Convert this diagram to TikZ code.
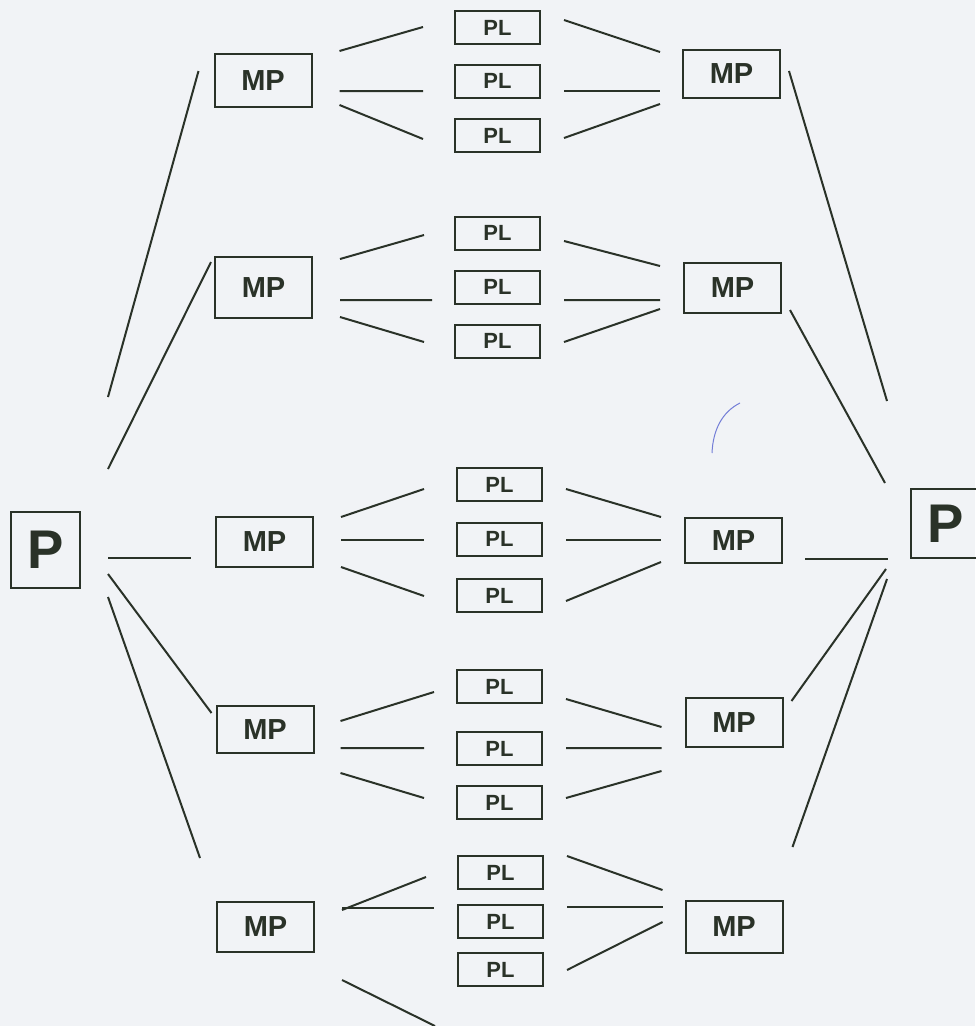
\documentclass[tikz,border=0pt]{standalone}
\usepackage{fontspec}
\setmainfont{Liberation Sans}
\definecolor{ink}{RGB}{42,50,40}
\definecolor{paper}{RGB}{241,243,246}
\definecolor{pen}{RGB}{115,125,215}
\tikzstyle{pbox}=[rectangle,draw=ink,text=ink,line width=0.4mm,inner sep=0pt,minimum width=13.8mm,minimum height=15.2mm,font=\fontsize{31}{31}\selectfont\bfseries]
\tikzstyle{mpbox}=[rectangle,draw=ink,text=ink,line width=0.4mm,inner sep=0pt,minimum width=19.4mm,minimum height=10mm,font=\fontsize{16.5}{16.5}\selectfont\bfseries]
\tikzstyle{plbox}=[rectangle,draw=ink,text=ink,line width=0.4mm,inner sep=0pt,minimum width=17mm,minimum height=6.6mm,font=\fontsize{12.5}{12.5}\selectfont\bfseries]
\tikzstyle{link}=[draw=ink,line width=0.4mm]

\begin{document}
\begin{tikzpicture}[x=0.2mm,y=-0.2mm]
    \fill[paper] (0,0) rectangle (975,1026);
    \useasboundingbox (0,0) rectangle (975,1026);

    % the two P boxes
    \node (pL) at (45.5,550) [pbox] {P};
    \node (pR) at (945.5,523.5) [pbox,minimum height=13.8mm] {P};

    % left MP column
    \node (ml1) at (263,80.5) [mpbox,minimum height=10.6mm] {MP};
    \node (ml2) at (263.5,287.5) [mpbox,minimum height=12.2mm] {MP};
    \node (ml3) at (264.5,542) [mpbox] {MP};
    \node (ml4) at (265,729.5) [mpbox,minimum height=9.4mm] {MP};
    \node (ml5) at (265.5,926.5) [mpbox] {MP};

    % right MP column
    \node (mr1) at (731.5,74) [mpbox,minimum height=9.6mm] {MP};
    \node (mr2) at (732.5,287.5) [mpbox] {MP};
    \node (mr3) at (733.5,540.5) [mpbox,minimum height=9mm] {MP};
    \node (mr4) at (734,722.5) [mpbox,minimum height=9.8mm] {MP};
    \node (mr5) at (734,927) [mpbox,minimum height=10.4mm] {MP};

    % PL column
    \node (pl1) at (497.5,27.5) [plbox] {PL};
    \node (pl2) at (497.5,81) [plbox] {PL};
    \node (pl3) at (497.5,135.5) [plbox] {PL};
    \node (pl4) at (497.5,233) [plbox] {PL};
    \node (pl5) at (497.5,287) [plbox] {PL};
    \node (pl6) at (497.5,341) [plbox] {PL};
    \node (pl7) at (499.5,484.5) [plbox] {PL};
    \node (pl8) at (499.5,539) [plbox] {PL};
    \node (pl9) at (499.5,595.5) [plbox] {PL};
    \node (pl10) at (499.5,686.5) [plbox] {PL};
    \node (pl11) at (499.5,748.5) [plbox] {PL};
    \node (pl12) at (499.5,802.5) [plbox] {PL};
    \node (pl13) at (500.5,872.5) [plbox] {PL};
    \node (pl14) at (500.5,921.5) [plbox] {PL};
    \node (pl15) at (500.5,969.5) [plbox] {PL};
    \coordinate (cut) at (435,1026);

    % left P to left MPs
    \draw[link] ([shift={(27,-153)}]pL.east) -- ([shift={(-15,-9.5)}]ml1.west);
    \draw[link] ([shift={(27,-81)}]pL.east) -- ([shift={(-3,-25.5)}]ml2.west);
    \draw[link] ([shift={(27,8)}]pL.east) -- ([shift={(-24,16)}]ml3.west);
    \draw[link] ([shift={(27,24)}]pL.east) -- ([shift={(-4,-16.5)}]ml4.west);
    \draw[link] ([shift={(27,47)}]pL.east) -- ([shift={(-16,-68.5)}]ml5.west);

    % right MPs to right P
    \draw[link] ([shift={(8,-3)}]mr1.east) -- ([shift={(-23,-122.5)}]pR.west);
    \draw[link] ([shift={(8,22.5)}]mr2.east) -- ([shift={(-25,-40.5)}]pR.west);
    \draw[link] ([shift={(22,18.5)}]mr3.east) -- ([shift={(-22,35.5)}]pR.west);
    \draw[link] ([shift={(8,-21.5)}]mr4.east) -- ([shift={(-24,45.5)}]pR.west);
    \draw[link] ([shift={(9,-80)}]mr5.east) -- ([shift={(-23,55.5)}]pR.west);

    % left MPs to PLs
    \draw[link] ([shift={(27,-29.5)}]ml1.east) -- ([shift={(-31,-0.5)}]pl1.west);
    \draw[link] ([shift={(27,10.5)}]ml1.east) -- ([shift={(-31,10)}]pl2.west);
    \draw[link] ([shift={(27,24.5)}]ml1.east) -- ([shift={(-31,3.5)}]pl3.west);
    \draw[link] ([shift={(27,-28.5)}]ml2.east) -- ([shift={(-30,2)}]pl4.west);
    \draw[link] ([shift={(27,12.5)}]ml2.east) -- ([shift={(-22,13)}]pl5.west);
    \draw[link] ([shift={(27,29.5)}]ml2.east) -- ([shift={(-30,1)}]pl6.west);
    \draw[link] ([shift={(27,-25)}]ml3.east) -- ([shift={(-32,4.5)}]pl7.west);
    \draw[link] ([shift={(27,-2)}]ml3.east) -- ([shift={(-32,1)}]pl8.west);
    \draw[link] ([shift={(27,25)}]ml3.east) -- ([shift={(-32,0.5)}]pl9.west);
    \draw[link] ([shift={(26,-8.5)}]ml4.east) -- ([shift={(-22,5.5)}]pl10.west);
    \draw[link] ([shift={(26,18.5)}]ml4.east) -- ([shift={(-32,-0.5)}]pl11.west);
    \draw[link] ([shift={(26,43.5)}]ml4.east) -- ([shift={(-32,-4.5)}]pl12.west);
    \draw[link] ([shift={(27,-16.5)}]ml5.east) -- ([shift={(-31,4.5)}]pl13.west);
    \draw[link] ([shift={(27,-18.5)}]ml5.east) -- ([shift={(-23,-13.5)}]pl14.west);
    \draw[link] ([shift={(27,53.5)}]ml5.east) -- (cut);

    % PLs to right MPs
    \draw[link] ([shift={(23,-7.5)}]pl1.east) -- ([shift={(-22,-22)}]mr1.west);
    \draw[link] ([shift={(23,10)}]pl2.east) -- ([shift={(-22,17)}]mr1.west);
    \draw[link] ([shift={(23,2.5)}]pl3.east) -- ([shift={(-22,30)}]mr1.west);
    \draw[link] ([shift={(23,8)}]pl4.east) -- ([shift={(-23,-21.5)}]mr2.west);
    \draw[link] ([shift={(23,13)}]pl5.east) -- ([shift={(-23,12.5)}]mr2.west);
    \draw[link] ([shift={(23,1)}]pl6.east) -- ([shift={(-23,21.5)}]mr2.west);
    \draw[link] ([shift={(23,4.5)}]pl7.east) -- ([shift={(-23,-23.5)}]mr3.west);
    \draw[link] ([shift={(23,1)}]pl8.east) -- ([shift={(-23,-0.5)}]mr3.west);
    \draw[link] ([shift={(23,5.5)}]pl9.east) -- ([shift={(-23,21.5)}]mr3.west);
    \draw[link] ([shift={(23,12.5)}]pl10.east) -- ([shift={(-23,4.5)}]mr4.west);
    \draw[link] ([shift={(23,-0.5)}]pl11.east) -- ([shift={(-23,25.5)}]mr4.west);
    \draw[link] ([shift={(23,-4.5)}]pl12.east) -- ([shift={(-23,48.5)}]mr4.west);
    \draw[link] ([shift={(23,-16.5)}]pl13.east) -- ([shift={(-22,-37)}]mr5.west);
    \draw[link] ([shift={(23,-14.5)}]pl14.east) -- ([shift={(-22,-20)}]mr5.west);
    \draw[link] ([shift={(23,0.5)}]pl15.east) -- ([shift={(-22,-5)}]mr5.west);

    % stray pen mark
    \draw[pen,line width=0.2mm] (740,403) .. controls (722,412) and (713,430) .. (712,453);
\end{tikzpicture}
\end{document}
